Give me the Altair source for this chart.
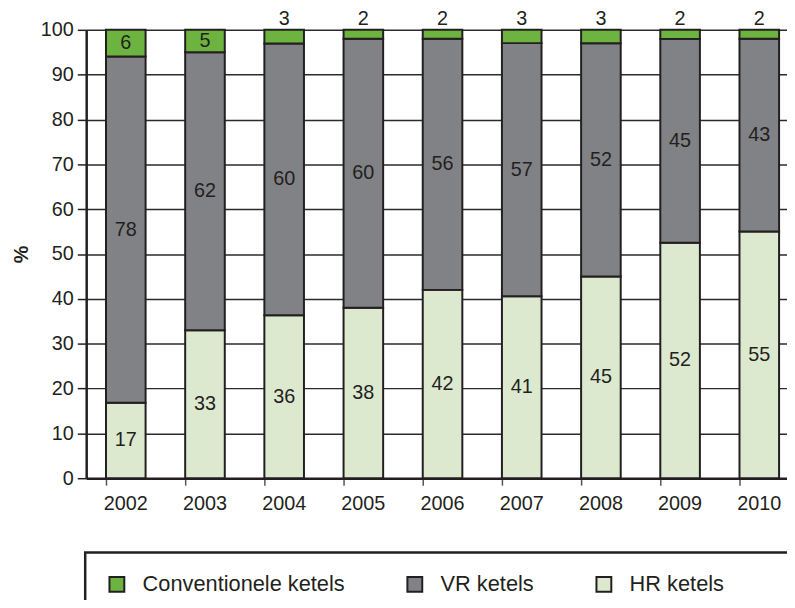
import altair as alt
import pandas as pd

years = ["2002", "2003", "2004", "2005", "2006", "2007", "2008", "2009", "2010"]
hr = [17, 33, 36, 38, 42, 41, 45, 52, 55]
vr = [78, 62, 60, 60, 56, 57, 52, 45, 43]
conv = [6, 5, 3, 2, 2, 3, 3, 2, 2]

types = ["Conventionele ketels", "VR ketels", "HR ketels"]
colors = ["#6cb33f", "#808285", "#dce9cf"]

rows = []
for i, y in enumerate(years):
    rows.append({"year": y, "type": "HR ketels", "value": hr[i], "order": 0})
    rows.append({"year": y, "type": "VR ketels", "value": vr[i], "order": 1})
    rows.append({"year": y, "type": "Conventionele ketels", "value": conv[i], "order": 2})
df = pd.DataFrame(rows)

ink = "#231f20"

base = (
    alt.Chart(df)
    .transform_joinaggregate(total="sum(value)", groupby=["year"])
    .transform_calculate(pct="datum.value / datum.total * 100")
    .transform_window(
        cum="sum(pct)",
        groupby=["year"],
        sort=[alt.SortField("order")],
        frame=[None, 0],
    )
    .transform_calculate(start="datum.cum - datum.pct", mid="datum.cum - datum.pct / 2")
)

xenc = alt.X(
    "year:N",
    sort=years,
    scale=alt.Scale(paddingInner=0.5, paddingOuter=0.25),
    axis=alt.Axis(
        title=None,
        labelAngle=0,
        labelFontSize=20,
        labelColor=ink,
        labelPadding=9,
        tickSize=7,
        tickColor="#555555",
        tickWidth=1.5,
        bandPosition=0,
        domainColor=ink,
        domainWidth=2.5,
        grid=False,
    ),
)

yscale = alt.Scale(domain=[0, 100], nice=False)

# trailing spacing keeps the legend frame running off the right edge, as in the reference
pad = "\u00a0" * 9 + "\u200b"

bars = base.mark_bar(stroke=ink, strokeWidth=2).encode(
    x=xenc,
    y=alt.Y(
        "start:Q",
        scale=yscale,
        axis=alt.Axis(
            title="%",
            titleFontSize=20,
            titleFontWeight="bold",
            titleColor=ink,
            titlePadding=9,
            values=list(range(0, 101, 10)),
            labelFontSize=20,
            labelColor=ink,
            labelPadding=4,
            tickSize=9,
            tickColor=ink,
            tickWidth=1.5,
            domainColor=ink,
            domainWidth=2.5,
            grid=True,
            gridColor="#2b2b2b",
            gridWidth=1.5,
        ),
    ),
    y2="cum:Q",
    color=alt.Color(
        "type:N",
        scale=alt.Scale(domain=types, range=colors),
        legend=alt.Legend(
            title=None,
            orient="none",
            direction="horizontal",
            legendX=-1,
            legendY=528,
            labelLimit=800,
            labelExpr="datum.label == 'HR ketels' ? datum.label + '" + pad + "' : datum.label",
        ),
    ),
)

inside = base.transform_filter(
    "datum.type != 'Conventionele ketels' || datum.pct >= 4"
).mark_text(fontSize=20, color=ink, baseline="middle").encode(
    x=alt.X("year:N", sort=years),
    y=alt.Y("mid:Q", scale=yscale),
    text="value:Q",
)

above = base.transform_filter(
    "datum.type == 'Conventionele ketels' && datum.pct < 4"
).mark_text(fontSize=20, color=ink, baseline="middle", dy=-11).encode(
    x=alt.X("year:N", sort=years),
    y=alt.Y("cum:Q", scale=yscale),
    text="value:Q",
)

chart = (
    alt.layer(bars, inside, above)
    .properties(
        width=720,
        height=453,
        padding={"left": 79, "top": 19, "right": -12, "bottom": 120},
        autosize=alt.AutoSizeParams(type="none"),
    )
    .configure(font="Liberation Sans")
    .configure_view(stroke=None)
    .configure_legend(
        labelFontSize=22,
        labelColor=ink,
        labelOffset=15,
        columnPadding=58,
        padding=21,
        strokeColor=ink,
        strokeWidth=2.5,
        symbolType="square",
        symbolSize=225,
        symbolStrokeColor=ink,
        symbolStrokeWidth=2,
    )
)

chart.save("out.html", embed_options={"renderer": "svg", "actions": False})
